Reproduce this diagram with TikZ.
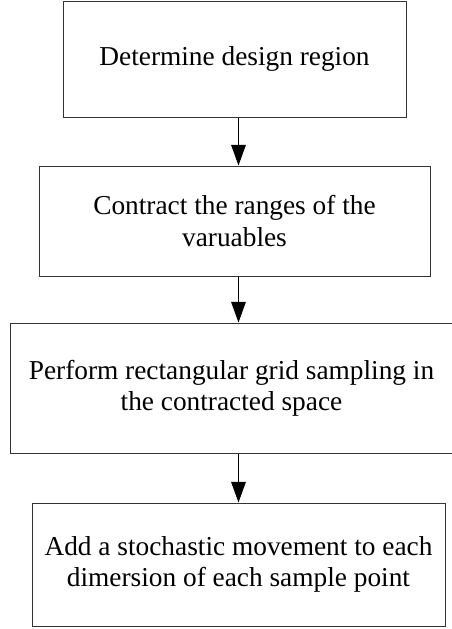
\documentclass[tikz,border=0pt]{standalone}
\usepackage{fontspec}
\setmainfont{Liberation Serif}
\usepackage{tikz}
\usetikzlibrary{arrows.meta}
\tikzstyle{stepbox} = [draw=black!80, line width=0.75pt, align=center, inner sep=0pt, font=\fontsize{20.5}{23.3}\selectfont]
\tikzstyle{arr} = [line width=0.75pt, -{Triangle[length=15.5pt,width=11pt]}]

\begin{document}
\begin{tikzpicture}[x=0.75pt,y=-0.75pt]
			\useasboundingbox (0,0) rectangle (451,629);
			\node[stepbox,minimum width=257.25pt,minimum height=87pt] (det) at (234.5,59) {Determine design region};
			\node[stepbox,minimum width=293.25pt,minimum height=82.5pt] (con) at (234.5,221) {Contract the ranges of the\\varuables};
			\node[stepbox,minimum width=331.5pt,minimum height=97.5pt] (grid) at (231.5,388) {Perform rectangular grid sampling in\\the contracted space};
			\node[stepbox,minimum width=309.75pt,minimum height=92.25pt] (move) at (238.5,564.5) {Add a stochastic movement to each\\dimersion of each sample point};
			\draw[arr] (det.south -| move) -- (con.north -| move);
			\draw[arr] (con.south -| move) -- (grid.north -| move);
			\draw[arr] (grid.south -| move) -- (move.north);
		\end{tikzpicture}
\end{document}
